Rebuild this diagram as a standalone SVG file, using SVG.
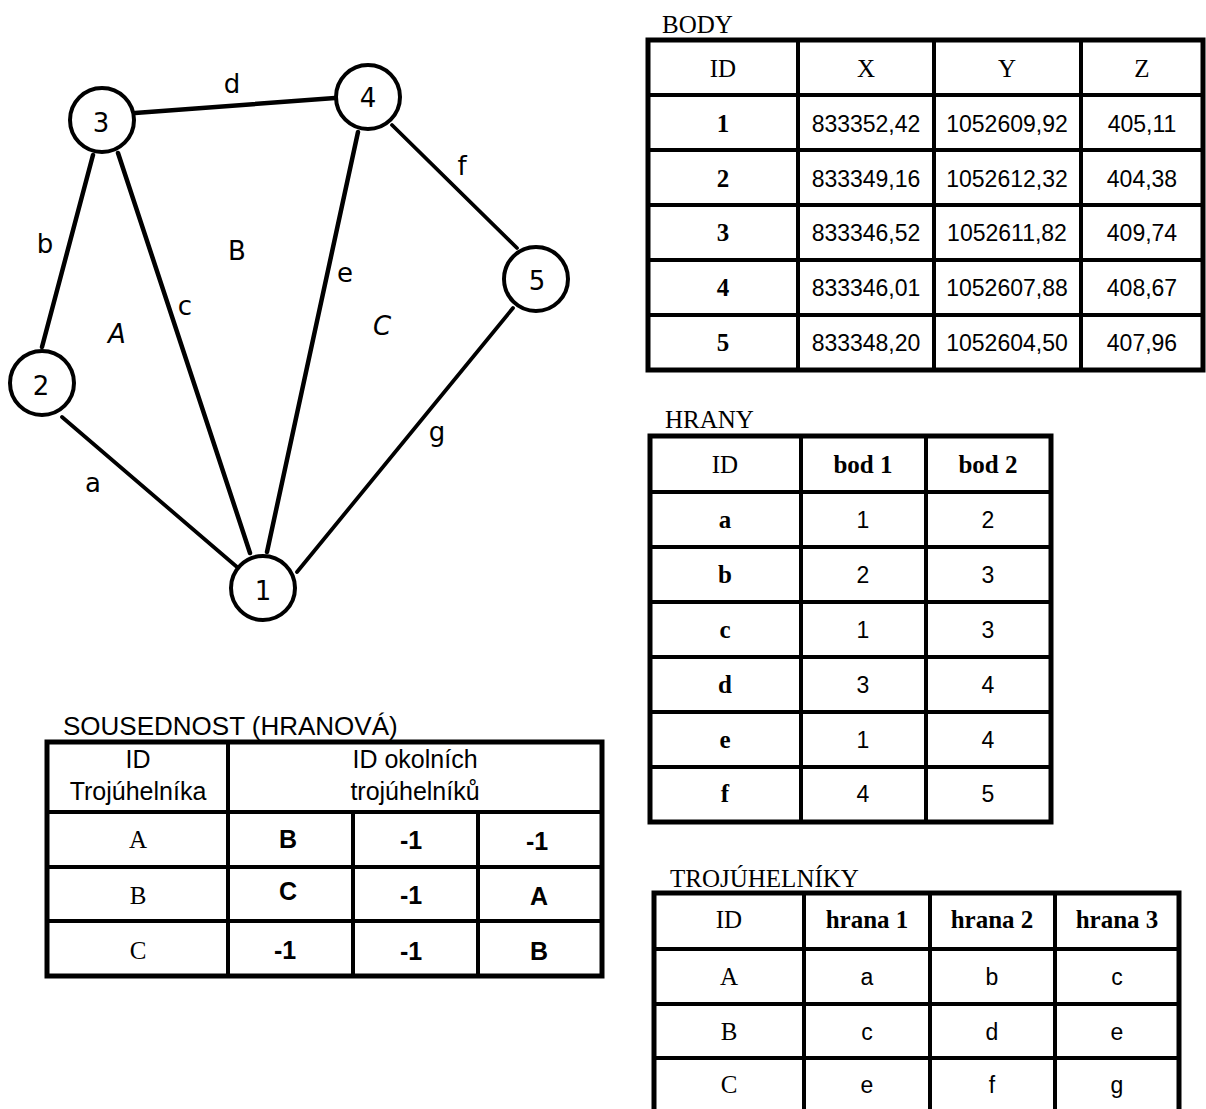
<svg xmlns="http://www.w3.org/2000/svg" width="1206" height="1109" viewBox="0 0 1206 1109">
<style>
.edge{stroke:#000;stroke-width:4.5;stroke-linecap:round;fill:none}
.thin{stroke-width:3.8}
.node circle{fill:#fff;stroke:#000;stroke-width:4}
.gl{font-family:"DejaVu Sans",Verdana,sans-serif;font-size:26px;text-anchor:middle;fill:#000}
.it{font-style:italic}
.ttl{font-family:"Liberation Serif","Times New Roman",serif;font-size:25px;fill:#000}
.ar{font-family:"Liberation Sans",Arial,sans-serif;font-size:26px;fill:#000}
.tb{fill:#fff;stroke:#000;stroke-width:5}
.ln{stroke:#000;stroke-width:4}
.hs{font-family:"Liberation Serif","Times New Roman",serif;font-size:25px;text-anchor:middle;fill:#000}
.hb{font-family:"Liberation Serif","Times New Roman",serif;font-size:25px;font-weight:bold;text-anchor:middle;fill:#000}
.v{font-family:"Liberation Sans",Arial,sans-serif;font-size:23px;text-anchor:middle;fill:#000}
.ah{font-family:"Liberation Sans",Arial,sans-serif;font-size:25px;text-anchor:middle;fill:#000}
.ab{font-family:"Liberation Sans",Arial,sans-serif;font-size:25px;font-weight:bold;text-anchor:middle;fill:#000}
</style>
<rect width="1206" height="1109" fill="#fff"/>

<g id="connectors">
<line class="edge thin" x1="62" y1="417" x2="237" y2="567"/>
<line class="edge" x1="93" y1="155" x2="42" y2="347"/>
<line class="edge" x1="118" y1="153" x2="250" y2="553"/>
<line class="edge" x1="135" y1="113" x2="335" y2="98"/>
<line class="edge" x1="358" y1="132" x2="267" y2="552"/>
<line class="edge thin" x1="392" y1="125" x2="517" y2="248"/>
<line class="edge thin" x1="513" y1="308" x2="297" y2="572"/>
</g>

<g id="edge-labels">
<text class="gl" x="232" y="93">d</text>
<text class="gl" x="45" y="253">b</text>
<text class="gl" x="185" y="315">c</text>
<text class="gl" x="237" y="260">B</text>
<text class="gl" x="345" y="282">e</text>
<text class="gl it" x="382" y="335">C</text>
<text class="gl" x="462" y="175">f</text>
<text class="gl it" x="117" y="343">A</text>
<text class="gl" x="93" y="492">a</text>
<text class="gl" x="437" y="441">g</text>
</g>

<g id="node1" class="node"><circle cx="263" cy="588" r="32"/><text class="gl" x="263" y="600">1</text></g>
<g id="node2" class="node"><circle cx="42" cy="383" r="32"/><text class="gl" x="41" y="395">2</text></g>
<g id="node3" class="node"><circle cx="102" cy="120" r="32"/><text class="gl" x="101" y="132">3</text></g>
<g id="node4" class="node"><circle cx="368" cy="97" r="32"/><text class="gl" x="368" y="107">4</text></g>
<g id="node5" class="node"><circle cx="536" cy="279" r="32"/><text class="gl" x="537" y="290">5</text></g>

<g id="table-body">
<text class="ttl" x="662" y="33">BODY</text>
<rect class="tb" x="648" y="40" width="555" height="330"/>
<line class="ln" x1="798" y1="40" x2="798" y2="370"/>
<line class="ln" x1="934" y1="40" x2="934" y2="370"/>
<line class="ln" x1="1081" y1="40" x2="1081" y2="370"/>
<line class="ln" x1="648" y1="95" x2="1203" y2="95"/>
<line class="ln" x1="648" y1="150" x2="1203" y2="150"/>
<line class="ln" x1="648" y1="205" x2="1203" y2="205"/>
<line class="ln" x1="648" y1="260" x2="1203" y2="260"/>
<line class="ln" x1="648" y1="315" x2="1203" y2="315"/>
<text class="hs" x="723" y="77">ID</text>
<text class="hs" x="866" y="77">X</text>
<text class="hs" x="1007" y="77">Y</text>
<text class="hs" x="1142" y="77">Z</text>
<text class="hb" x="723" y="132">1</text><text class="v" x="866" y="132">833352,42</text><text class="v" x="1007" y="132">1052609,92</text><text class="v" x="1142" y="132">405,11</text>
<text class="hb" x="723" y="187">2</text><text class="v" x="866" y="187">833349,16</text><text class="v" x="1007" y="187">1052612,32</text><text class="v" x="1142" y="187">404,38</text>
<text class="hb" x="723" y="241">3</text><text class="v" x="866" y="241">833346,52</text><text class="v" x="1007" y="241">1052611,82</text><text class="v" x="1142" y="241">409,74</text>
<text class="hb" x="723" y="296">4</text><text class="v" x="866" y="296">833346,01</text><text class="v" x="1007" y="296">1052607,88</text><text class="v" x="1142" y="296">408,67</text>
<text class="hb" x="723" y="351">5</text><text class="v" x="866" y="351">833348,20</text><text class="v" x="1007" y="351">1052604,50</text><text class="v" x="1142" y="351">407,96</text>
</g>

<g id="table-hrany">
<text class="ttl" x="665" y="428">HRANY</text>
<rect class="tb" x="650" y="436" width="401" height="386"/>
<line class="ln" x1="801" y1="436" x2="801" y2="822"/>
<line class="ln" x1="926" y1="436" x2="926" y2="822"/>
<line class="ln" x1="650" y1="492" x2="1051" y2="492"/>
<line class="ln" x1="650" y1="547" x2="1051" y2="547"/>
<line class="ln" x1="650" y1="602" x2="1051" y2="602"/>
<line class="ln" x1="650" y1="657" x2="1051" y2="657"/>
<line class="ln" x1="650" y1="712" x2="1051" y2="712"/>
<line class="ln" x1="650" y1="767" x2="1051" y2="767"/>
<text class="hs" x="725" y="473">ID</text>
<text class="hb" x="863" y="473">bod 1</text>
<text class="hb" x="988" y="473">bod 2</text>
<text class="hb" x="725" y="528">a</text><text class="v" x="863" y="528">1</text><text class="v" x="988" y="528">2</text>
<text class="hb" x="725" y="583">b</text><text class="v" x="863" y="583">2</text><text class="v" x="988" y="583">3</text>
<text class="hb" x="725" y="638">c</text><text class="v" x="863" y="638">1</text><text class="v" x="988" y="638">3</text>
<text class="hb" x="725" y="693">d</text><text class="v" x="863" y="693">3</text><text class="v" x="988" y="693">4</text>
<text class="hb" x="725" y="748">e</text><text class="v" x="863" y="748">1</text><text class="v" x="988" y="748">4</text>
<text class="hb" x="725" y="802">f</text><text class="v" x="863" y="802">4</text><text class="v" x="988" y="802">5</text>
</g>

<g id="table-sousednost">
<text class="ar" x="63" y="735">SOUSEDNOST (HRANOVÁ)</text>
<rect class="tb" x="47" y="742" width="555" height="234"/>
<line class="ln" x1="228" y1="742" x2="228" y2="976"/>
<line class="ln" x1="353" y1="812" x2="353" y2="976"/>
<line class="ln" x1="478" y1="812" x2="478" y2="976"/>
<line class="ln" x1="47" y1="812" x2="602" y2="812"/>
<line class="ln" x1="47" y1="867" x2="602" y2="867"/>
<line class="ln" x1="47" y1="921" x2="602" y2="921"/>
<text class="ah" x="138" y="768">ID</text>
<text class="ah" x="138" y="800">Trojúhelníka</text>
<text class="ah" x="415" y="768">ID okolních</text>
<text class="ah" x="415" y="800">trojúhelníků</text>
<text class="hs" x="138" y="848">A</text><text class="ab" x="288" y="848">B</text><text class="ab" x="411" y="849">-1</text><text class="ab" x="537" y="850">-1</text>
<text class="hs" x="138" y="904">B</text><text class="ab" x="288" y="900">C</text><text class="ab" x="411" y="904">-1</text><text class="ab" x="539" y="905">A</text>
<text class="hs" x="138" y="959">C</text><text class="ab" x="285" y="959">-1</text><text class="ab" x="411" y="960">-1</text><text class="ab" x="539" y="960">B</text>
</g>

<g id="table-trojuhelniky">
<text class="ttl" x="670" y="887">TROJÚHELNÍKY</text>
<rect class="tb" x="654" y="893" width="525" height="221"/>
<line class="ln" x1="804" y1="893" x2="804" y2="1114"/>
<line class="ln" x1="930" y1="893" x2="930" y2="1114"/>
<line class="ln" x1="1055" y1="893" x2="1055" y2="1114"/>
<line class="ln" x1="654" y1="949" x2="1179" y2="949"/>
<line class="ln" x1="654" y1="1004" x2="1179" y2="1004"/>
<line class="ln" x1="654" y1="1058" x2="1179" y2="1058"/>
<text class="hs" x="729" y="928">ID</text>
<text class="hb" x="867" y="928">hrana 1</text>
<text class="hb" x="992" y="928">hrana 2</text>
<text class="hb" x="1117" y="928">hrana 3</text>
<text class="hs" x="729" y="985">A</text><text class="v" x="867" y="985">a</text><text class="v" x="992" y="985">b</text><text class="v" x="1117" y="985">c</text>
<text class="hs" x="729" y="1040">B</text><text class="v" x="867" y="1040">c</text><text class="v" x="992" y="1040">d</text><text class="v" x="1117" y="1040">e</text>
<text class="hs" x="729" y="1093">C</text><text class="v" x="867" y="1093">e</text><text class="v" x="992" y="1093">f</text><text class="v" x="1117" y="1093">g</text>
</g>
</svg>
